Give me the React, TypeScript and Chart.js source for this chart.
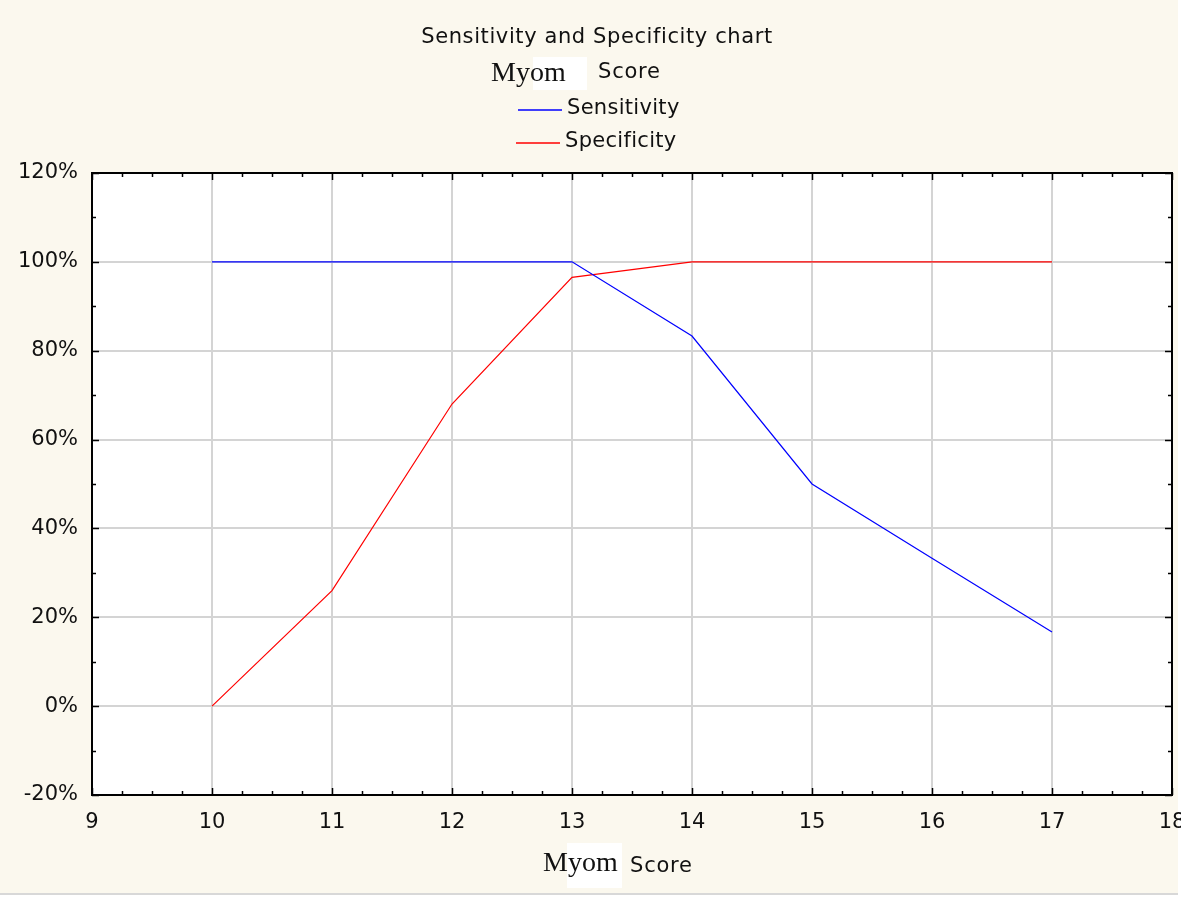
import React, { useEffect, useRef } from "react";
import { Chart, registerables } from "chart.js";

Chart.register(...registerables);

const chartTitle = "Sensitivity and Specificity chart";
const varName = "Myom";
const varSuffix = "Score";
const scores = [10, 11, 12, 13, 14, 15, 16, 17];
const sensitivity = [100, 100, 100, 100, 83.3, 50, 33.3, 16.7];
const specificity = [0, 26, 68, 96.5, 100, 100, 100, 100];
const seriesNames = ["Sensitivity", "Specificity"];
const seriesColors = ["#0000ff", "#ff0000"];
const xRange = [9, 18];
const yRange = [-20, 120];

const SANS = '"DejaVu Sans", Verdana, sans-serif';
const SERIF = '"Liberation Serif", "Times New Roman", serif';
const BG = "#fbf8ee";

function textWithSpacing(ctx: any, text: string, x: number, y: number, spacing: number) {
  try {
    ctx.letterSpacing = `${spacing}px`;
  } catch (e) {}
  ctx.fillText(text, x, y);
  try {
    ctx.letterSpacing = "0px";
  } catch (e) {}
}

const decorPlugin = {
  id: "decor",
  beforeDraw(chart: any) {
    const { ctx, chartArea: a, width, height } = chart;
    ctx.save();
    ctx.fillStyle = "#ffffff";
    ctx.fillRect(0, 0, width, height);
    ctx.fillStyle = BG;
    ctx.fillRect(0, 0, 1178, 893);
    ctx.fillStyle = "#d8d8d8";
    ctx.fillRect(0, 893, 1178, 2);
    ctx.fillStyle = "#ffffff";
    ctx.fillRect(a.left, a.top, a.right - a.left, a.bottom - a.top);
    ctx.restore();
  },
  afterDraw(chart: any) {
    const { ctx, chartArea: a } = chart;
    const xs = chart.scales.x;
    const ys = chart.scales.y;
    ctx.save();
    // frame
    ctx.strokeStyle = "#000";
    ctx.lineWidth = 2;
    ctx.strokeRect(a.left, a.top, a.right - a.left, a.bottom - a.top);
    ctx.lineWidth = 1.5;
    ctx.beginPath();
    for (let v = xRange[0]; v <= xRange[1] + 1e-9; v += 0.25) {
      const px = Math.round(xs.getPixelForValue(v)) + 0.5;
      const major = Math.abs(v - Math.round(v)) < 1e-9;
      const len = major ? 7 : 4;
      ctx.moveTo(px, a.bottom);
      ctx.lineTo(px, a.bottom - len);
      ctx.moveTo(px, a.top);
      ctx.lineTo(px, a.top + len);
    }
    for (let v = yRange[0]; v <= yRange[1] + 1e-9; v += 10) {
      const py = Math.round(ys.getPixelForValue(v)) + 0.5;
      const major = v % 20 === 0;
      const len = major ? 7 : 4;
      ctx.moveTo(a.left, py);
      ctx.lineTo(a.left + len, py);
      ctx.moveTo(a.right, py);
      ctx.lineTo(a.right - len, py);
    }
    ctx.stroke();

    // title
    ctx.fillStyle = "#111";
    ctx.textBaseline = "middle";
    ctx.textAlign = "center";
    ctx.font = `21px ${SANS}`;
    textWithSpacing(ctx, chartTitle, 597, 38, 0.6);

    // subtitle
    ctx.fillStyle = "#ffffff";
    ctx.fillRect(533, 57, 54, 33);
    ctx.textAlign = "left";
    ctx.fillStyle = "#111";
    ctx.font = `28px ${SERIF}`;
    ctx.fillText(varName, 491, 74);
    ctx.font = `21px ${SANS}`;
    textWithSpacing(ctx, varSuffix, 598, 73, 0.8);

    // legend
    const legendRows = [109, 142];
    const lineStarts = [518, 516];
    seriesNames.forEach((name, i) => {
      ctx.strokeStyle = seriesColors[i];
      ctx.lineWidth = 1.5;
      ctx.beginPath();
      ctx.moveTo(lineStarts[i], legendRows[i] + 1);
      ctx.lineTo(lineStarts[i] + 44, legendRows[i] + 1);
      ctx.stroke();
      ctx.fillStyle = "#111";
      ctx.font = `21px ${SANS}`;
      textWithSpacing(ctx, name, lineStarts[i] + 49, legendRows[i], 0.3);
    });

    // x-axis title
    ctx.fillStyle = "#ffffff";
    ctx.fillRect(567, 843, 55, 45);
    ctx.fillStyle = "#111";
    ctx.font = `28px ${SERIF}`;
    ctx.fillText(varName, 543, 864);
    ctx.font = `21px ${SANS}`;
    textWithSpacing(ctx, varSuffix, 630, 867, 0.8);
    ctx.restore();
  },
};

export default function App() {
  const ref = useRef<HTMLCanvasElement | null>(null);
  useEffect(() => {
    if (!ref.current) return;
    const gridColor = (range: number[]) => (c: any) =>
      c.tick && (c.tick.value === range[0] || c.tick.value === range[1])
        ? "rgba(0,0,0,0)"
        : "#d4d4d4";
    const chart = new Chart(ref.current, {
      type: "line",
      data: {
        datasets: [
          {
            label: seriesNames[0],
            data: scores.map((s, i) => ({ x: s, y: sensitivity[i] })),
            borderColor: seriesColors[0],
            borderWidth: 1.2,
            pointRadius: 0,
            tension: 0,
            fill: false,
          },
          {
            label: seriesNames[1],
            data: scores.map((s, i) => ({ x: s, y: specificity[i] })),
            borderColor: seriesColors[1],
            borderWidth: 1.2,
            pointRadius: 0,
            tension: 0,
            fill: false,
          },
        ],
      },
      options: {
        responsive: false,
        animation: false,
        layout: { padding: { top: 173, right: 9, left: 0, bottom: 0 } },
        plugins: {
          legend: { display: false },
          title: { display: false },
          tooltip: { enabled: false },
        },
        scales: {
          x: {
            type: "linear",
            min: xRange[0],
            max: xRange[1],
            afterFit(scale: any) {
              scale.height = 102;
              scale.paddingLeft = 0;
              scale.paddingRight = 0;
            },
            ticks: {
              stepSize: 1,
              padding: 15,
              color: "#111",
              font: { family: SANS, size: 21 },
              callback: (v: any) => String(v),
            },
            grid: { drawTicks: false, lineWidth: 2, color: gridColor(xRange) },
            border: { display: false },
          },
          y: {
            min: yRange[0],
            max: yRange[1],
            afterFit(scale: any) {
              scale.width = 92;
              scale.paddingTop = 0;
              scale.paddingBottom = 0;
            },
            ticks: {
              stepSize: 20,
              padding: 14,
              color: "#111",
              font: { family: SANS, size: 21 },
              callback: (v: any) => `${v}%`,
            },
            grid: { drawTicks: false, lineWidth: 2, color: gridColor(yRange) },
            border: { display: false },
          },
        },
      },
      plugins: [decorPlugin],
    });
    return () => chart.destroy();
  }, []);
  return (
    <div style={{ position: "absolute", left: 0, top: 0, width: 1181, height: 897 }}>
      <canvas ref={ref} width={1181} height={897} style={{ display: "block" }} />
    </div>
  );
}
